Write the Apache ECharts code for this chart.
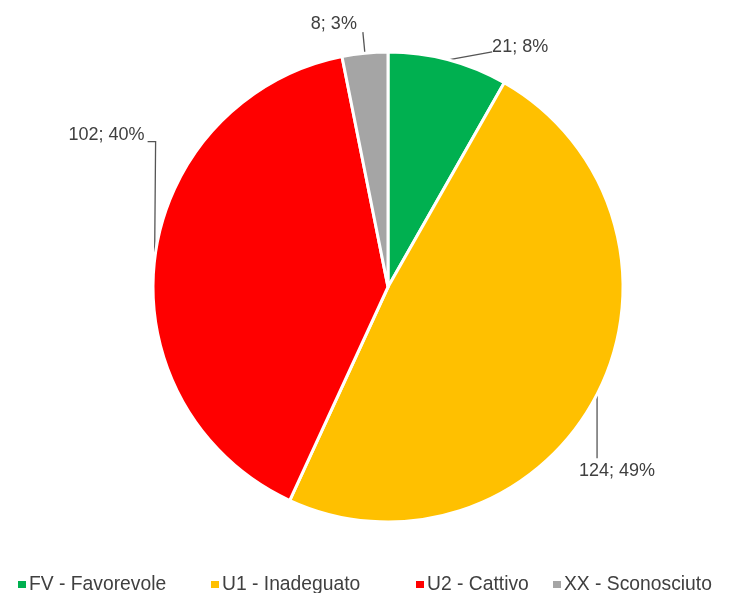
<!DOCTYPE html>
<html>
<head>
<meta charset="utf-8">
<script src="https://cdn.jsdelivr.net/npm/echarts@6/dist/echarts.min.js"></script>
<style>
html,body{margin:0;padding:0;background:#fff;}
#chart{width:744px;height:593px;}
</style>
</head>
<body>
<div id="chart"></div>
<script>
const categories = ['FV - Favorevole', 'U1 - Inadeguato', 'U2 - Cattivo', 'XX - Sconosciuto'];
const values = [21, 124, 102, 8];
const percents = [8, 49, 40, 3];
const colors = ['#00B050', '#FFC000', '#FF0000', '#A5A5A5'];

const chart = echarts.init(document.getElementById('chart'));

// label placement offsets relative to the slice's outer-edge anchor point
const labelPlacement = [
  { dx: 44, dy: -13, align: 'left', line: [[44, -8]] },
  { dx: 20, dy: 77, align: 'center', line: [[0, 64]] },
  { dx: -10, dy: -125, align: 'right', line: [[1, -118], [-7, -118]] },
  { dx: -31, dy: -29, align: 'center', line: [[-2, -21]] }
];

const legendLefts = [16, 209, 414, 551];

chart.setOption({
  animation: false,
  backgroundColor: '#ffffff',
  color: colors,
  legend: categories.map((c, i) => ({
    data: [c],
    left: legendLefts[i],
    top: 575,
    padding: 0,
    icon: 'rect',
    itemWidth: 10,
    itemHeight: 9,
    textStyle: { fontFamily: 'Liberation Sans, Arial, sans-serif', fontSize: 19.3, color: '#404040', padding: [0, 0, 0, -3] }
  })),
  series: [{
    type: 'pie',
    center: [388, 287],
    radius: 235,
    startAngle: 90,
    clockwise: true,
    avoidLabelOverlap: false,
    data: categories.map((c, i) => ({ name: c, value: values[i] })),
    itemStyle: { borderColor: '#ffffff', borderWidth: 3 },
    label: {
      show: true,
      position: 'outside',
      formatter: (p) => values[p.dataIndex] + '; ' + percents[p.dataIndex] + '%',
      fontFamily: 'Liberation Sans, Arial, sans-serif',
      fontSize: 18,
      color: '#404040'
    },
    labelLine: {
      show: true,
      length: 10,
      length2: 10,
      lineStyle: { color: '#555555', width: 1.3 }
    },
    labelLayout: function (params) {
      const i = params.dataIndex;
      const pl = labelPlacement[i];
      const a = params.labelLinePoints[0];
      const pts = [[a[0], a[1]]].concat(pl.line.map(d => [a[0] + d[0], a[1] + d[1]]));
      return {
        x: a[0] + pl.dx,
        y: a[1] + pl.dy,
        align: pl.align,
        verticalAlign: 'middle',
        labelLinePoints: pts
      };
    },
    emphasis: { disabled: true }
  }]
});
</script>
</body>
</html>
